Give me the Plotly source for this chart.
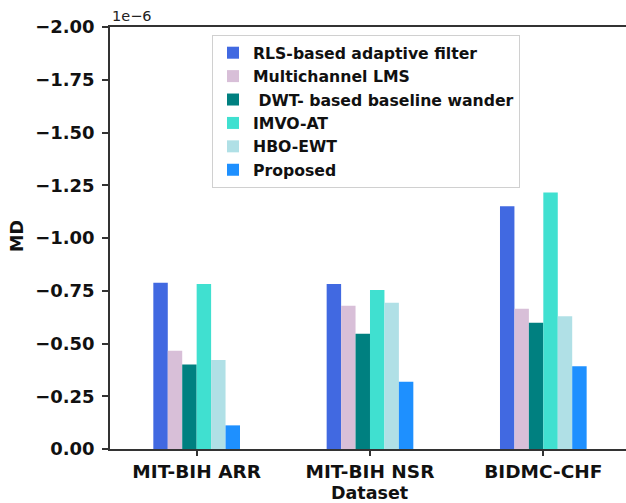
import plotly.graph_objects as go

categories = ["MIT-BIH ARR", "MIT-BIH NSR", "BIDMC-CHF"]
series_names = [
    "RLS-based adaptive filter",
    "Multichannel LMS",
    " DWT- based baseline wander",
    "IMVO-AT",
    "HBO-EWT",
    "Proposed",
]
rls = [-0.788e-6, -0.782e-6, -1.150e-6]
mlms = [-0.466e-6, -0.679e-6, -0.665e-6]
dwt = [-0.400e-6, -0.546e-6, -0.598e-6]
imvo = [-0.782e-6, -0.753e-6, -1.216e-6]
hbo = [-0.422e-6, -0.693e-6, -0.629e-6]
proposed = [-0.112e-6, -0.319e-6, -0.392e-6]
series_values = [rls, mlms, dwt, imvo, hbo, proposed]
colors = ["#4169E1", "#D8BFD8", "#008080", "#40E0D0", "#B0E0E6", "#1E90FF"]
y_ticks = [0.0, -0.25, -0.5, -0.75, -1.0, -1.25, -1.5, -1.75, -2.0]
scale = 1e-6

fig = go.Figure()
for name, vals, col in zip(series_names, series_values, colors):
    fig.add_trace(go.Bar(
        x=list(range(len(categories))),
        y=[v / scale for v in vals],
        name=name.replace(" ", "\u00a0", 1) if name.startswith(" ") else name,
        marker=dict(color=col, line=dict(width=0)),
    ))

W, H = 626, 503
L, R, T, B = 110, 0, 27, 54
PW, PH = W - L - R, H - T - B
fig.update_layout(
    width=W, height=H,
    margin=dict(l=L, r=R, t=T, b=B),
    paper_bgcolor="white", plot_bgcolor="white",
    font=dict(family="DejaVu Sans", size=18, color="#111", weight="bold"),
    barmode="group", bargap=0.5, bargroupgap=0,
    showlegend=True,
    legend=dict(
        x=(212 - L) / PW, y=(449 - 35) / PH,
        xanchor="left", yanchor="top",
        bordercolor="#d0d0d0", borderwidth=1, bgcolor="rgba(255,255,255,0.9)",
        font=dict(family="DejaVu Sans", size=15.7, weight="bold", color="#111"),
        tracegroupgap=0,
    ),
    xaxis=dict(
        range=[-0.5, 2.477],
        tickvals=list(range(len(categories))),
        ticktext=categories,
        showline=True, linecolor="#333", linewidth=1.5, mirror=True,
        ticks="outside", ticklen=5, tickwidth=1.5, tickcolor="#333",
        showgrid=False, zeroline=False,
        tickfont=dict(size=18.5, weight="bold"),
    ),
    yaxis=dict(
        range=[0, -2.0],
        tickvals=y_ticks,
        tickformat=".2f",
        showline=True, linecolor="#333", linewidth=1.5,
        ticks="outside", ticklen=6, tickwidth=1.5, tickcolor="#333",
        ticklabelstandoff=4,
        showgrid=False, zeroline=False,
        tickfont=dict(size=18, weight="bold"),
    ),
    annotations=[
        dict(text="1e\u22126", xref="paper", yref="paper", x=0, y=1,
             xanchor="left", yanchor="bottom", yshift=1, showarrow=False,
             font=dict(size=14.5, weight="normal", color="#222")),
        dict(text="MD", xref="paper", yref="paper",
             x=(17 - L) / PW, y=(449 - 236) / PH,
             xanchor="center", yanchor="middle", textangle=-90, showarrow=False,
             font=dict(size=17.5, weight="bold")),
        dict(text="Dataset", xref="paper", yref="paper",
             x=(369 - L) / PW, y=(449 - 493) / PH,
             xanchor="center", yanchor="middle", showarrow=False,
             font=dict(size=17.5, weight="bold")),
    ],
)

fig.write_html(
    "out.html",
    config={"displayModeBar": False},
    post_script="document.body.style.margin='0';document.body.style.overflow='hidden';",
)
